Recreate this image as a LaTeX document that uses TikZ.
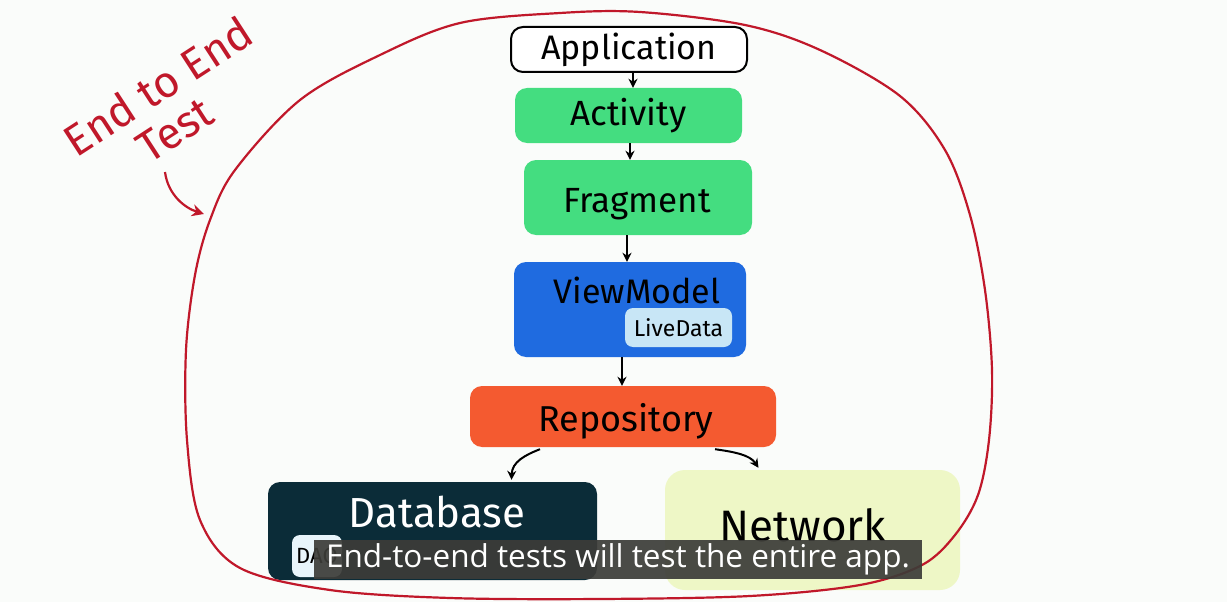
\documentclass[tikz,border=0pt]{standalone}
\usepackage{fontspec}
\setmainfont{Fira Sans}
\newfontfamily\capfont{Open Sans}
\usetikzlibrary{arrows.meta,calc}
\definecolor{bg}{HTML}{FAFCFA}
\definecolor{redline}{HTML}{C0182A}
\definecolor{gbox}{HTML}{44DD80}
\definecolor{bbox}{HTML}{1F6BE0}
\definecolor{lbox}{HTML}{C8E6F6}
\definecolor{obox}{HTML}{F45A30}
\definecolor{dbox}{HTML}{0B2C38}
\definecolor{nbox}{HTML}{EEF7C6}
\definecolor{capbg}{HTML}{3C3C38}
\tikzset{
  blk/.style={rounded corners=12pt, inner sep=0pt, text=black},
  conn/.style={draw=black, line width=2pt, -{Stealth[length=9pt,width=9pt]}},
  redarr/.style={draw=redline, line width=2.2pt, -{Stealth[length=12pt,width=12pt]}},
  redtxt/.style={text=redline, rotate=33, inner sep=0pt, font=\fontsize{44}{44}\selectfont},
}
\begin{document}
\begin{tikzpicture}[x=1pt,y=-1pt]
\fill[bg] (0,0) rectangle (1227,602);
\useasboundingbox (0,0) rectangle (1227,602);
% boxes
\node[blk, draw=black, line width=2pt, fill=white, minimum width=236pt, minimum height=45pt] (app) at (629,49.5) {\fontsize{34}{34}\selectfont Application};
\node[blk, fill=gbox, minimum width=227pt, minimum height=55pt] (act) at (628.5,115.5) {\fontsize{35}{35}\selectfont Activity};
\node[blk, fill=gbox, minimum width=228pt, minimum height=75pt] (frag) at (638,197.5) {};
\node (fragt) at (637,204) {\fontsize{35}{35}\selectfont Fragment};
\node[blk, fill=bbox, minimum width=232pt, minimum height=95pt] (vm) at (630,309.5) {};
\node (vmt) at (637,290) {\fontsize{34}{34}\selectfont ViewModel};
\node[blk, rounded corners=8pt, fill=lbox, minimum width=107pt, minimum height=39pt] (ld) at (678.5,327.5) {\fontsize{23}{23}\selectfont LiveData};
\node[blk, fill=obox, minimum width=306pt, minimum height=61pt] (repo) at (623,416.5) {};
\node (repot) at (626,421) {\fontsize{36}{36}\selectfont Repository};
\node[blk, fill=dbox, minimum width=329pt, minimum height=98pt] (db) at (432.5,531) {};
\node[text=white] (dbt) at (437,512) {\fontsize{42}{42}\selectfont Database};
\node[blk, rounded corners=8pt, fill=lbox!40!white, minimum width=50pt, minimum height=42pt] (dao) at (317,556) {\fontsize{22}{22}\selectfont DAO};
\node[blk, rounded corners=20pt, fill=nbox, minimum width=295pt, minimum height=120pt] (net) at (812.5,530) {};
\node (nett) at (803,525) {\fontsize{44}{44}\selectfont Network};
% connectors
\draw[conn] (app.south -| 633,0) -- (act.north -| 633,0);
\draw[conn] (act.south -| 630,0) -- (frag.north -| 630,0);
\draw[conn] (frag.south -| 627,0) -- (vm.north -| 627,0);
\draw[conn] (vm.south -| 622,0) -- (repo.north -| 622,0);
\draw[conn] ($(repo.south)+(-83,2)$) .. controls (525,455) and (512,462) .. ($(db.north)+(79,-2)$);
\draw[conn] ($(repo.south)+(92,2)$) .. controls (735,452) and (750,455) .. ($(net.north)+(-54,-2)$);
% red loop
\draw[redline, line width=2.2pt] plot[smooth cycle, tension=0.55] coordinates {
 (210,220) (235,170) (300,100) (380,55) (460,23) (560,13) (640,12) (745,25) (820,50) (900,96) (945,150) (970,215) (985,290) (992,370) (989,440) (978,495) (955,535) (922,565) (860,585) (750,596) (600,599) (450,598) (330,590) (240,568) (200,520) (187,440) (186,350) (195,275)};
% red label
\node[redtxt] (e2e) at (158,86) {End to End};
\node[redtxt] (tst) at (175,130) {Test};
\coordinate (arrs) at (165,172);
\coordinate (arre) at (204,214);
\draw[redarr] (arrs) .. controls (168,195) and (185,208) .. (arre);
% caption
\node[fill=capbg, fill opacity=0.92, text opacity=1, text=white, inner sep=0pt, minimum width=608pt, minimum height=39pt] (cap) at (618,559.5) {\capfont\fontsize{31.5}{31.5}\selectfont End-to-end tests will test the entire app.};
\end{tikzpicture}
\end{document}
